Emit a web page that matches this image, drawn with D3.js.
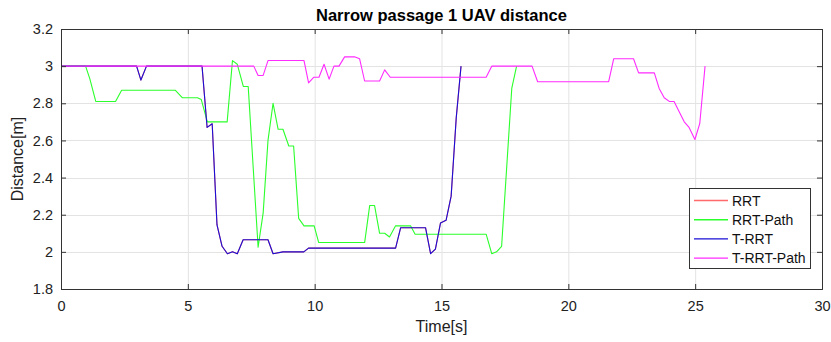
<!DOCTYPE html>
<html>
<head>
<meta charset="utf-8">
<script src="https://cdn.jsdelivr.net/npm/d3@7/dist/d3.min.js"></script>
<style>
  html, body { margin: 0; padding: 0; background: #fff; }
  svg { display: block; font-family: "Liberation Sans", Arial, Helvetica, sans-serif; }
</style>
</head>
<body>
<svg id="chart" width="831" height="342"></svg>
<script>
// Distance over time for each planner
const rrtTime  = [0, 2.98, 3.15, 3.37, 5.56, 5.76, 5.96, 6.15, 6.35, 6.56, 6.76, 6.95, 7.18, 8.16, 8.36, 8.75, 9.57, 9.76, 13.19, 13.39, 14.37, 14.57, 14.76, 14.96, 15.18, 15.38, 15.58, 15.77];
const rrtDist  = [3, 3, 2.925, 3, 3, 2.67, 2.69, 2.145, 2.03, 1.99, 2.0, 1.99, 2.065, 2.065, 1.99, 2.0, 2.0, 2.02, 2.02, 2.13, 2.13, 1.99, 2.015, 2.155, 2.17, 2.30, 2.72, 3.0];

const rrtPathTime = [0, 0.97, 1.14, 1.37, 2.15, 2.39, 4.51, 4.78, 5.38, 5.53, 5.77, 6.55, 6.76, 6.95, 7.19, 7.38, 7.77, 7.97, 8.16, 8.36, 8.56, 8.75, 8.98, 9.17, 9.37, 9.58, 9.98, 10.16, 11.97, 12.17, 12.36, 12.56, 12.76, 12.95, 13.19, 13.78, 13.96, 16.76, 16.98, 17.17, 17.37, 17.77, 17.96];
const rrtPathDist = [3, 3, 2.93, 2.81, 2.81, 2.87, 2.87, 2.83, 2.83, 2.82, 2.70, 2.70, 3.03, 3.01, 2.89, 2.89, 2.025, 2.21, 2.60, 2.80, 2.66, 2.66, 2.57, 2.57, 2.18, 2.14, 2.14, 2.05, 2.05, 2.25, 2.25, 2.10, 2.10, 2.08, 2.14, 2.14, 2.095, 2.095, 1.99, 2.00, 2.03, 2.88, 3.0];

const trrtTime = rrtTime.slice();
const trrtDist = rrtDist.slice();

const trrtPathTime = [0, 7.6, 7.77, 7.97, 8.16, 9.58, 9.76, 9.96, 10.17, 10.37, 10.57, 10.76, 10.96, 11.18, 11.57, 11.77, 11.97, 12.56, 12.76, 12.98, 16.76, 16.98, 18.57, 18.79, 21.59, 21.79, 22.57, 22.77, 23.39, 23.58, 23.78, 23.98, 24.17, 24.37, 24.57, 24.76, 24.99, 25.18, 25.39];
const trrtPathDist = [3, 3, 2.95, 2.95, 3.03, 3.03, 2.91, 2.94, 2.94, 3.01, 2.93, 3.0, 3.0, 3.05, 3.05, 3.04, 2.92, 2.92, 2.98, 2.94, 2.94, 3.0, 3.0, 2.916, 2.916, 3.04, 3.04, 2.964, 2.964, 2.88, 2.83, 2.81, 2.81, 2.755, 2.70, 2.67, 2.605, 2.69, 3.0];

const seriesNames  = ["RRT", "RRT-Path", "T-RRT", "T-RRT-Path"];
const seriesColors = ["#ff6a6a", "#2bff2b", "#1a0fd6", "#ff2bff"];
const xTicks = [0, 5, 10, 15, 20, 25, 30];
const yTicks = [1.8, 2, 2.2, 2.4, 2.6, 2.8, 3, 3.2];

const series = [
  { name: seriesNames[0], color: seriesColors[0], t: rrtTime,      v: rrtDist },
  { name: seriesNames[1], color: seriesColors[1], t: rrtPathTime,  v: rrtPathDist },
  { name: seriesNames[2], color: seriesColors[2], t: trrtTime,     v: trrtDist },
  { name: seriesNames[3], color: seriesColors[3], t: trrtPathTime, v: trrtPathDist }
];

const svg = d3.select("#chart");
const m = { left: 61, right: 822, top: 29, bottom: 289 };
const x = d3.scaleLinear().domain([0, 30]).range([m.left, m.right]);
const y = d3.scaleLinear().domain([1.8, 3.2]).range([m.bottom, m.top]);

// grid
const grid = svg.append("g");
grid.selectAll(".gx").data(xTicks.slice(1, -1)).join("line")
  .attr("x1", d => x(d) + 0.5).attr("x2", d => x(d) + 0.5)
  .attr("y1", m.top).attr("y2", m.bottom)
  .attr("stroke", "#e3e3e3").attr("stroke-width", 1);
grid.selectAll(".gy").data(yTicks.slice(1, -1)).join("line")
  .attr("y1", d => Math.round(y(d)) + 0.5).attr("y2", d => Math.round(y(d)) + 0.5)
  .attr("x1", m.left).attr("x2", m.right)
  .attr("stroke", "#e3e3e3").attr("stroke-width", 1);

// series lines
const line = d3.line().x(d => x(d[0])).y(d => y(d[1]));
const plot = svg.append("g");
series.forEach(s => {
  plot.append("path")
    .datum(s.t.map((t, i) => [t, s.v[i]]))
    .attr("d", line)
    .attr("fill", "none")
    .attr("stroke", s.color)
    .attr("stroke-width", 1.1)
    .attr("stroke-linejoin", "round");
});

// axes (ticks pointing inward, box on all sides)
const axisColor = "#333";
const fmt = d => d3.format("")(+d.toFixed(1));
const xAxis = d3.axisBottom(x).tickValues(xTicks).tickSize(-5).tickPadding(12).tickFormat(fmt);
const yAxis = d3.axisLeft(y).tickValues(yTicks).tickSize(-5).tickPadding(8).tickFormat(fmt);
const xAxisTop = d3.axisTop(x).tickValues(xTicks).tickSize(-5).tickFormat("");
const yAxisRight = d3.axisRight(y).tickValues(yTicks).tickSize(-5).tickFormat("");

function styleAxis(g) {
  g.selectAll("path").attr("stroke", axisColor);
  g.selectAll("line").attr("stroke", axisColor);
  g.selectAll("text").attr("fill", "#222").style("font-size", "14.5px")
    .style("font-family", "'Liberation Sans', Arial, sans-serif");
}
svg.append("g").attr("transform", `translate(0,${m.bottom})`).call(xAxis).call(styleAxis);
svg.append("g").attr("transform", `translate(${m.left},0)`).call(yAxis).call(styleAxis);
svg.append("g").attr("transform", `translate(0,${m.top})`).call(xAxisTop).call(styleAxis);
svg.append("g").attr("transform", `translate(${m.right},0)`).call(yAxisRight).call(styleAxis);

// titles
svg.append("text").attr("x", (m.left + m.right) / 2).attr("y", 21)
  .attr("text-anchor", "middle").style("font-size", "16.5px").style("font-weight", "bold")
  .attr("fill", "#000").text("Narrow passage 1 UAV distance");
svg.append("text").attr("x", (m.left + m.right) / 2).attr("y", 332)
  .attr("text-anchor", "middle").style("font-size", "16px").attr("fill", "#222").text("Time[s]");
svg.append("text").attr("transform", `translate(23,${(m.top + m.bottom) / 2}) rotate(-90)`)
  .attr("text-anchor", "middle").style("font-size", "16px").attr("fill", "#222").text("Distance[m]");

// legend
const lg = svg.append("g").attr("transform", "translate(689,188)");
lg.append("rect").attr("x", 0.5).attr("y", 0.5).attr("width", 121).attr("height", 80)
  .attr("fill", "#fff").attr("stroke", "#333").attr("stroke-width", 1);
series.forEach((s, i) => {
  const yy = 12.5 + i * 19.2;
  lg.append("line").attr("x1", 5).attr("x2", 39).attr("y1", yy).attr("y2", yy)
    .attr("stroke", s.color).attr("stroke-width", 1.4);
  lg.append("text").attr("x", 43).attr("y", yy + 5).style("font-size", "14px")
    .attr("fill", "#111").text(s.name);
});
</script>
</body>
</html>
